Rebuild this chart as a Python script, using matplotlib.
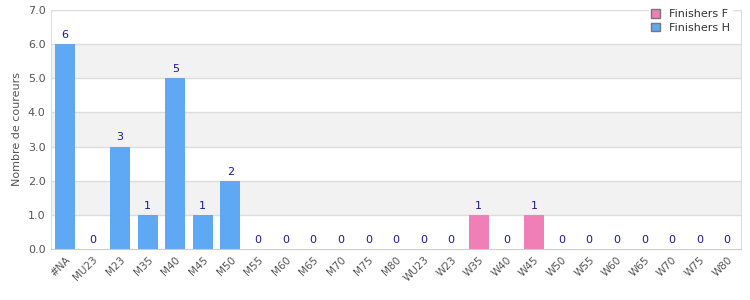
import numpy as np
import matplotlib.pyplot as plt
import matplotlib.patches as mpatches

categories = ['#NA', 'MU23', 'M23', 'M35', 'M40', 'M45', 'M50', 'M55', 'M60', 'M65',
              'M70', 'M75', 'M80', 'WU23', 'W23', 'W35', 'W40', 'W45', 'W50', 'W55',
              'W60', 'W65', 'W70', 'W75', 'W80']
finishers_h = [6, 0, 3, 1, 5, 1, 2, 0, 0, 0, 0, 0, 0, 0, 0, 0, 0, 0, 0, 0, 0, 0, 0, 0, 0]
finishers_f = [0, 0, 0, 0, 0, 0, 0, 0, 0, 0, 0, 0, 0, 0, 0, 1, 0, 1, 0, 0, 0, 0, 0, 0, 0]
yticks = [0, 1, 2, 3, 4, 5, 6, 7]

blue = '#5fa8f3'
pink = '#f07fb8'
txt = '#555555'

fig = plt.figure(figsize=(7.5, 3), dpi=100)
ax = fig.add_axes([0.068, 0.17, 0.92, 0.797])

x = np.arange(len(categories))
h = np.array(finishers_h)
f = np.array(finishers_f)

# alternating bands
for lo in range(1, 7, 2):
    ax.axhspan(lo, lo + 1, color='#f2f2f2', zorder=0, lw=0)
for y in yticks[1:]:
    ax.axhline(y, color='#dddddd', lw=1, zorder=1)

ax.bar(x, h, width=0.72, color=blue, zorder=2)
ax.bar(x, f, width=0.72, bottom=h, color=pink, zorder=2)

tot = h + f
for xi, t in zip(x, tot):
    ax.text(xi, t + 0.12, str(t), ha='center', va='bottom', fontsize=8, color='#1a1a8c')

ax.set_xlim(-0.5, len(categories) - 0.5)
ax.set_ylim(0, 7)
ax.set_yticks(yticks)
ax.set_yticklabels(['%.1f' % v for v in yticks], fontsize=8, color=txt)
ax.set_xticks(x)
ax.set_xticklabels(categories, rotation=45, ha='right', rotation_mode='anchor',
                   fontsize=7.5, color=txt)
ax.tick_params(length=0, pad=4)
ax.set_ylabel('Nombre de coureurs', fontsize=8, color=txt)

for s in ['top', 'right', 'left']:
    ax.spines[s].set_color('#dddddd')
ax.spines['bottom'].set_color('#cccccc')

handles = [mpatches.Patch(facecolor=pink, edgecolor='#777777', label='Finishers F'),
           mpatches.Patch(facecolor=blue, edgecolor='#777777', label='Finishers H')]
leg = ax.legend(handles=handles, loc='upper right', bbox_to_anchor=(0.995, 1.035),
                fontsize=8, frameon=True, framealpha=1, edgecolor='white',
                handlelength=0.8, handleheight=0.8, borderpad=0.2, labelspacing=0.3,
                fancybox=False)
for t in leg.get_texts():
    t.set_color('#333333')

fig.savefig('out.png', dpi=100)
